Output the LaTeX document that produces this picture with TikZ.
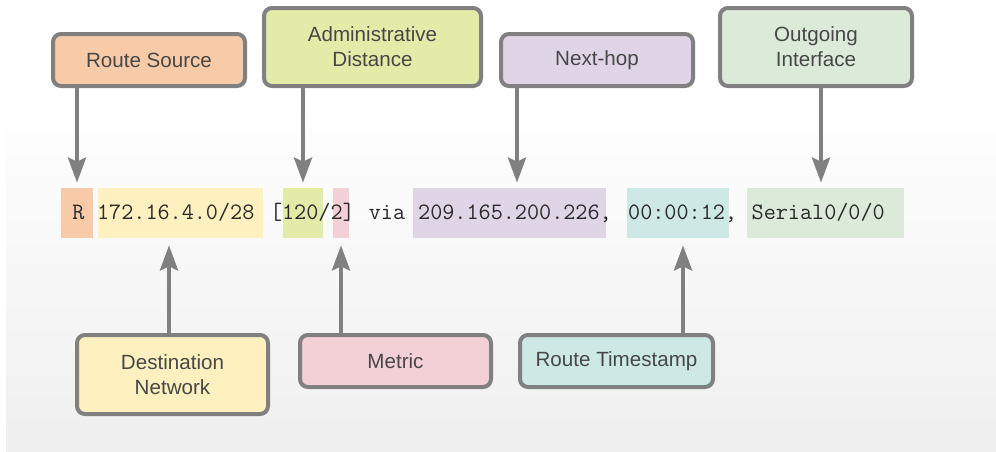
\documentclass[tikz,border=0pt]{standalone}
\usepackage{fontspec}
\setmainfont{Liberation Sans}
\usetikzlibrary{arrows.meta}
\definecolor{bordergray}{HTML}{808080}
\definecolor{labeltext}{HTML}{474747}
\definecolor{codetext}{HTML}{2A2A2A}
\definecolor{bgbottom}{HTML}{EFEFEF}
\definecolor{cOrange}{HTML}{F8CBA8}
\definecolor{cLime}{HTML}{E3EBA8}
\definecolor{cLilac}{HTML}{E0D5E7}
\definecolor{cMint}{HTML}{DCEBD9}
\definecolor{cYellow}{HTML}{FEF1BF}
\definecolor{cPink}{HTML}{F3D0D6}
\definecolor{cCyan}{HTML}{CEE8E6}
\tikzset{
  labelbox/.style={draw=bordergray, line width=2pt, rounded corners=4pt,
    minimum width=96pt, minimum height=26pt, inner sep=0pt,
    align=center, text=labeltext,
    font=\fontsize{10.3}{12.5}\selectfont},
  hilite/.style={inner sep=0pt, minimum height=25pt},
  codetxt/.style={anchor=base west, inner sep=0pt, text=codetext,
    font=\ttfamily\fontsize{11.75}{13}\selectfont},
  arr/.style={draw=bordergray, line width=2pt,
    -{Stealth[length=12.5pt, width=9pt, inset=2pt]}}
}
\begin{document}
\begin{tikzpicture}[x=0.5pt, y=-0.5pt]
\useasboundingbox (0,0) rectangle (996,451);
% background panel
\shade[top color=white, bottom color=bgbottom] (6,100) rectangle (996,451);

% highlight boxes behind the code line
\node[hilite, fill=cOrange, minimum width=16pt]   (rh) at (77,213) {};
\node[hilite, fill=cYellow, minimum width=82.5pt] (yh) at (180.5,213) {};
\node[hilite, fill=cLime,   minimum width=20pt]   (gh) at (303,213) {};
\node[hilite, fill=cPink,   minimum width=8pt]    (kh) at (341,213) {};
\node[hilite, fill=cLilac,  minimum width=96.5pt] (ph) at (509.5,213) {};
\node[hilite, fill=cCyan,   minimum width=51pt]   (ch) at (678,213) {};
\node[hilite, fill=cMint,   minimum width=78.5pt] (lh) at (825.5,213) {};

% the code line, in monospaced segments
\node[codetxt] (t1) at (72,219)    {R};
\node[codetxt] (t2) at (96.7,219)  {172.16.4.0/28};
\node[codetxt] (t3) at (269.6,219) {[120/2]};
\node[codetxt] (t4) at (368.4,219) {via};
\node[codetxt] (t5) at (417.8,219) {209.165.200.226,};
\node[codetxt] (t6) at (627.75,219) {00:00:12,};
\node[codetxt] (t7) at (751.25,219) {Serial0/0/0};

% label boxes, top row
\node[labelbox, fill=cOrange] (rs) at (149,60) {Route Source};
\node[labelbox, fill=cLime, minimum width=108.5pt, minimum height=39pt] (ad) at (372.5,47) {Administrative\\Distance};
\node[labelbox, fill=cLilac] (nh) at (597,60) {Next-hop};
\node[labelbox, fill=cMint, minimum height=39pt] (oi) at (816,47) {Outgoing\\Interface};

% label boxes, bottom row
\node[labelbox, fill=cYellow, minimum width=95.5pt, minimum height=39.5pt] (dn) at (172.5,374.5) {Destination\\Network};
\node[labelbox, fill=cPink, minimum width=95.5pt] (mt) at (395.5,361) {Metric};
\node[labelbox, fill=cCyan, minimum width=96.5pt] (ts) at (616.5,361) {Route Timestamp};

% arrow x positions
\coordinate (xnh) at (517,0);
\coordinate (xoi) at (821,0);
\coordinate (xdn) at (169,0);
\coordinate (xts) at (683,0);

% arrows from top labels
\draw[arr, shorten >=2.5pt] (rs.south -| rh) -- (rh.north);
\draw[arr, shorten >=2.5pt] (ad.south -| gh) -- (gh.north);
\draw[arr, shorten >=2.5pt] (nh.south -| xnh) -- (ph.north -| xnh);
\draw[arr, shorten >=2.5pt] (oi.south -| xoi) -- (lh.north -| xoi);

% arrows from bottom labels
\draw[arr, shorten >=3.5pt] (dn.north -| xdn) -- (yh.south -| xdn);
\draw[arr, shorten >=3.5pt] (mt.north -| kh) -- (kh.south);
\draw[arr, shorten >=3.5pt] (ts.north -| xts) -- (ch.south -| xts);
\end{tikzpicture}
\end{document}
